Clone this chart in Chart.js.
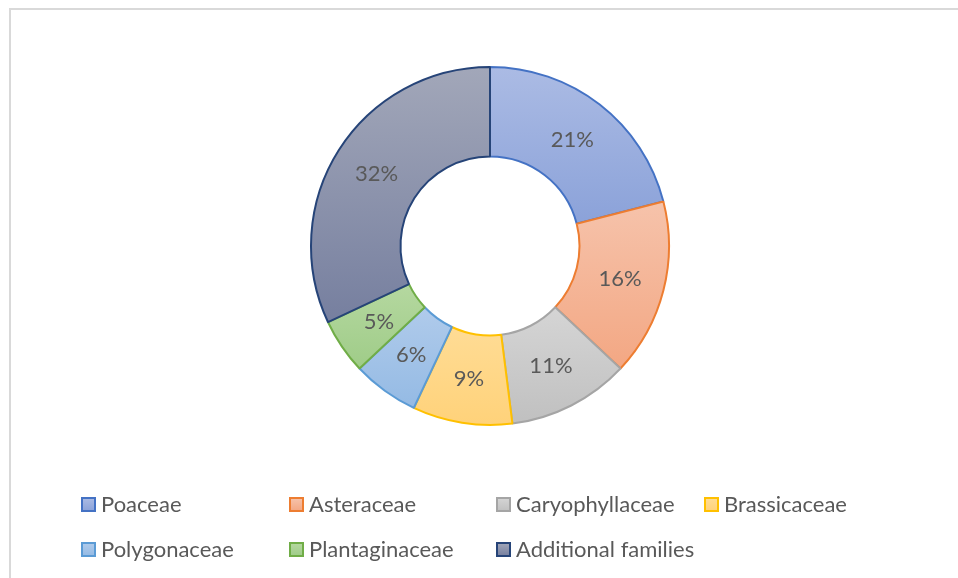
<!DOCTYPE html>
<html>
<head>
<meta charset="utf-8">
<script src="https://cdn.jsdelivr.net/npm/chart.js@4.4.1/dist/chart.umd.min.js"></script>
<style>
  html, body { margin: 0; padding: 0; background: #fff; }
  #wrap { position: relative; width: 958px; height: 578px; overflow: hidden; }
  #frame { position: absolute; left: 9px; top: 8px; width: 980px; height: 600px;
           border-left: 2px solid #d9d9d9; border-top: 2px solid #d9d9d9; box-sizing: border-box; }
  canvas { position: absolute; left: 0; top: 0; }
</style>
</head>
<body>
<div id="wrap">
  <div id="frame"></div>
  <canvas id="familyChart" width="958" height="578"></canvas>
</div>
<script>
// plant families share (%)
const families = ['Poaceae', 'Asteraceae', 'Caryophyllaceae', 'Brassicaceae',
                  'Polygonaceae', 'Plantaginaceae', 'Additional families'];
const shares = [21, 16, 11, 9, 6, 5, 32];

// Excel-ish colours: border, gradient top, gradient bottom
const borderColors = ['#4472c4', '#ed7d31', '#a5a5a5', '#ffc000', '#5b9bd5', '#70ad47', '#264478'];
const topColors = ['#abbbe4', '#f6c3ab', '#d5d5d5', '#ffdc95', '#b0cbeb', '#b5d8a0', '#a2a7b9'];
const bottomColors = ['#8ba2d9', '#f3a783', '#c0c0c0', '#ffd27a', '#94bae4', '#9fcc88', '#767f9f'];

const FONT = 'Lato, "Open Sans", sans-serif';
const TEXT_COLOR = '#595959';

// vertical gradient over each arc's own bounding box
function arcGradient(ctx, arc, i) {
    const p = arc.getProps(['x', 'y', 'startAngle', 'endAngle', 'innerRadius', 'outerRadius'], true);
    let minY = Infinity, maxY = -Infinity;
    const steps = 40;
    for (let s = 0; s <= steps; s++) {
        const a = p.startAngle + (p.endAngle - p.startAngle) * s / steps;
        [p.innerRadius, p.outerRadius].forEach(r => {
            const y = p.y + r * Math.sin(a);
            minY = Math.min(minY, y);
            maxY = Math.max(maxY, y);
        });
    }
    const g = ctx.createLinearGradient(0, minY, 0, maxY);
    g.addColorStop(0, topColors[i]);
    g.addColorStop(1, bottomColors[i]);
    return g;
}

const gradientPlugin = {
    id: 'arcGradients',
    beforeDatasetDraw(chart) {
        const meta = chart.getDatasetMeta(0);
        meta.data.forEach((arc, i) => {
            arc.options.backgroundColor = arcGradient(chart.ctx, arc, i);
        });
    }
};

const labelPlugin = {
    id: 'pctLabels',
    afterDatasetsDraw(chart) {
        const ctx = chart.ctx;
        const meta = chart.getDatasetMeta(0);
        ctx.save();
        ctx.font = '22px ' + FONT;
        ctx.fillStyle = TEXT_COLOR;
        ctx.textAlign = 'center';
        ctx.textBaseline = 'middle';
        meta.data.forEach((arc, i) => {
            const pos = arc.tooltipPosition();
            ctx.fillText(shares[i] + '%', pos.x, pos.y);
        });
        ctx.restore();
    }
};

// legend in fixed columns, like the Excel one
const legendPlugin = {
    id: 'gridLegend',
    afterDraw(chart) {
        const ctx = chart.ctx;
        const colX = [82, 290, 497, 705];
        const rowY = [504, 549];
        ctx.save();
        ctx.font = '22px ' + FONT;
        ctx.textBaseline = 'middle';
        families.forEach((name, i) => {
            const x = colX[i % 4];
            const y = rowY[Math.floor(i / 4)];
            const g = ctx.createLinearGradient(0, y - 6, 0, y + 7);
            g.addColorStop(0, topColors[i]);
            g.addColorStop(1, bottomColors[i]);
            ctx.fillStyle = g;
            ctx.fillRect(x, y - 6, 13, 13);
            ctx.strokeStyle = borderColors[i];
            ctx.lineWidth = 2;
            ctx.strokeRect(x, y - 6, 13, 13);
            ctx.fillStyle = TEXT_COLOR;
            ctx.fillText(name, x + 19, y + 1);
        });
        ctx.restore();
    }
};

new Chart(document.getElementById('familyChart').getContext('2d'), {
    type: 'doughnut',
    data: {
        labels: families,
        datasets: [{
            data: shares,
            backgroundColor: topColors,
            borderColor: borderColors,
            borderWidth: 2,
            borderAlign: 'center'
        }]
    },
    options: {
        responsive: false,
        animation: false,
        cutout: '50%',
        layout: { padding: { top: 66, bottom: 152, left: 22, right: 0 } },
        plugins: {
            legend: { display: false },
            tooltip: { enabled: false }
        }
    },
    plugins: [gradientPlugin, labelPlugin, legendPlugin]
});
</script>
</body>
</html>
